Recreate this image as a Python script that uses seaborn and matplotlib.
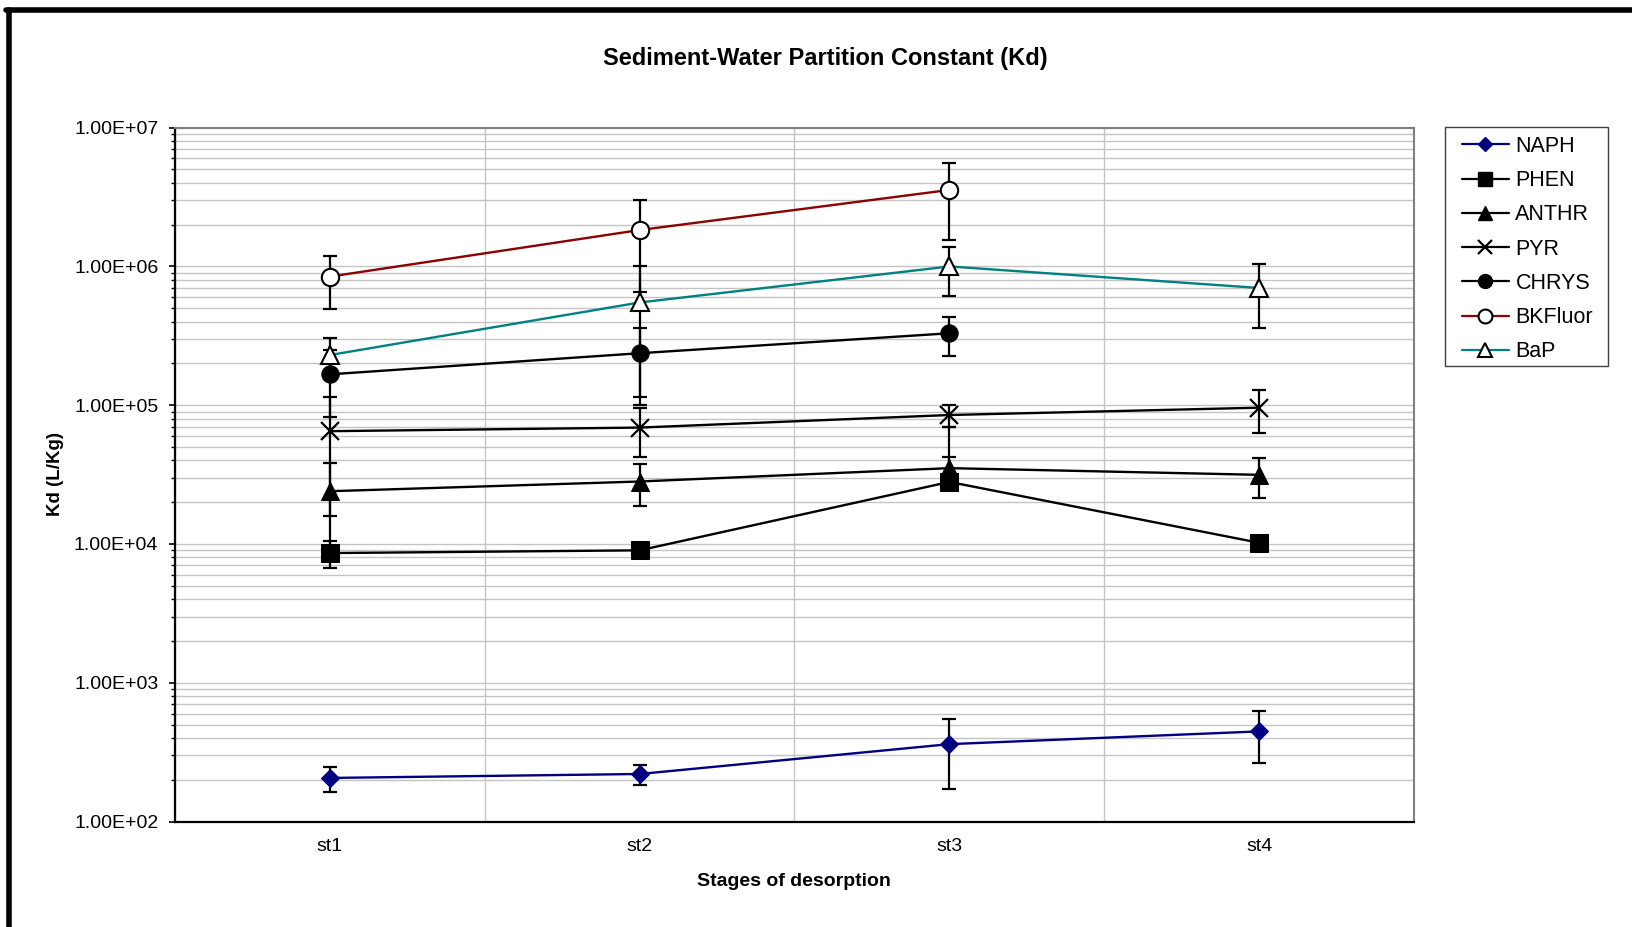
import numpy as np
import pandas as pd
import matplotlib
matplotlib.use("Agg")
import matplotlib.pyplot as plt
import seaborn as sns
from matplotlib.ticker import FuncFormatter, LogLocator, FixedLocator, NullFormatter
from matplotlib.lines import Line2D
from matplotlib.patches import Rectangle

# ---------------- data ----------------
STAGES = ["st1", "st2", "st3", "st4"]

NAPH = [206, 220, 361, 446]
NAPH_ERR_LO = [43, 36, 190, 180]
NAPH_ERR_HI = [43, 36, 190, 180]

PHEN = [8.6e3, 9.0e3, 2.8e4, 1.02e4]
PHEN_ERR_LO = [1.9e3, 0, 0, 0]
PHEN_ERR_HI = [1.9e3, 0, 1.4e4, 0]

ANTHR = [2.4e4, 2.82e4, 3.52e4, 3.15e4]
ANTHR_ERR_LO = [1.45e4, 9.5e3, 7.0e3, 1.0e4]
ANTHR_ERR_HI = [1.45e4, 9.5e3, 3.5e4, 1.0e4]

PYR = [6.5e4, 6.9e4, 8.5e4, 9.6e4]
PYR_ERR_LO = [4.9e4, 2.7e4, 1.5e4, 3.3e4]
PYR_ERR_HI = [4.9e4, 2.7e4, 1.5e4, 3.3e4]

CHRYS = [1.67e5, 2.37e5, 3.3e5, np.nan]
CHRYS_ERR_LO = [8.5e4, 1.22e5, 1.05e5, np.nan]
CHRYS_ERR_HI = [8.5e4, 1.22e5, 1.05e5, np.nan]

BKFLUOR = [8.45e5, 1.83e6, 3.56e6, np.nan]
BKFLUOR_ERR_LO = [3.5e5, 1.17e6, 2.0e6, np.nan]
BKFLUOR_ERR_HI = [3.5e5, 1.17e6, 2.0e6, np.nan]

BAP = [2.3e5, 5.5e5, 1.0e6, 7.0e5]
BAP_ERR_LO = [7.6e4, 4.5e5, 3.9e5, 3.4e5]
BAP_ERR_HI = [7.6e4, 4.5e5, 3.9e5, 3.4e5]

Y_TICKS = [1e2, 1e3, 1e4, 1e5, 1e6, 1e7]

# ---------------- style ----------------
sns.set_style("white")
plt.rcParams["font.family"] = ["Liberation Sans", "DejaVu Sans"]
plt.rcParams["text.color"] = "black"
plt.rcParams["axes.labelcolor"] = "black"
plt.rcParams["xtick.color"] = "black"
plt.rcParams["ytick.color"] = "black"

W, H = 1632, 927
fig = plt.figure(figsize=(W / 100, H / 100), dpi=100)
ax = fig.add_axes([175 / W, 1 - 821.5 / H, (1414 - 175) / W, (821.5 - 127.7) / H])

series = [
    ("NAPH", NAPH, NAPH_ERR_LO, NAPH_ERR_HI,
     dict(color="#000080", marker="D", markersize=9, markerfacecolor="#000080", markeredgecolor="#000080")),
    ("PHEN", PHEN, PHEN_ERR_LO, PHEN_ERR_HI,
     dict(color="black", marker="s", markersize=13, markerfacecolor="black", markeredgecolor="black")),
    ("ANTHR", ANTHR, ANTHR_ERR_LO, ANTHR_ERR_HI,
     dict(color="black", marker="^", markersize=13, markerfacecolor="black", markeredgecolor="black")),
    ("PYR", PYR, PYR_ERR_LO, PYR_ERR_HI,
     dict(color="black", marker="x", markersize=13, markeredgewidth=1.6, markeredgecolor="black")),
    ("CHRYS", CHRYS, CHRYS_ERR_LO, CHRYS_ERR_HI,
     dict(color="black", marker="o", markersize=12.5, markerfacecolor="black", markeredgecolor="black")),
    ("BKFluor", BKFLUOR, BKFLUOR_ERR_LO, BKFLUOR_ERR_HI,
     dict(color="#8B0000", marker="o", markersize=12.5, markerfacecolor="white", markeredgecolor="black",
          markeredgewidth=1.5)),
    ("BaP", BAP, BAP_ERR_LO, BAP_ERR_HI,
     dict(color="#008080", marker="^", markersize=13, markerfacecolor="white", markeredgecolor="black",
          markeredgewidth=1.5)),
]

xpos = np.arange(len(STAGES))
handles = []
for i, (name, vals, lo, hi, kw) in enumerate(series):
    vals = np.asarray(vals, dtype=float)
    ax.errorbar(xpos, vals, yerr=[lo, hi], fmt="none", ecolor="black",
                elinewidth=1.6, capsize=5, capthick=1.6, zorder=2 + i * 0.1,
                label="_nolegend_")
    df = pd.DataFrame({"x": xpos, "Kd": vals}).dropna()
    sns.lineplot(data=df, x="x", y="Kd", ax=ax, estimator=None, errorbar=None,
                 sort=False, linewidth=1.7, zorder=3 + i * 0.1, legend=False, **kw)
    handles.append(Line2D([0], [0], linewidth=1.6, **kw))

# ---------------- axes ----------------
ax.set_yscale("log")
ax.set_ylim(1e2, 1e7)
ax.set_xlim(-0.5, len(STAGES) - 0.5)

ax.yaxis.set_major_locator(FixedLocator(Y_TICKS))
ax.yaxis.set_minor_locator(LogLocator(base=10, subs=np.arange(2, 10)))
ax.yaxis.set_major_formatter(FuncFormatter(lambda v, p: f"{v:.2E}"))
ax.yaxis.set_minor_formatter(NullFormatter())

ax.set_xticks(xpos)
ax.set_xticklabels(STAGES)
ax.set_xticks(np.arange(-0.5, len(STAGES), 1.0), minor=True)

ax.grid(True, which="both", axis="y", color="#c4c4c4", linewidth=1.0, zorder=0)
ax.grid(True, which="minor", axis="x", color="#c4c4c4", linewidth=1.0, zorder=0)
ax.set_axisbelow(True)

ax.tick_params(axis="x", which="major", length=0, pad=12, labelsize=14, colors="black")
ax.tick_params(axis="x", which="minor", length=5, width=1.2, direction="out", color="black")
ax.tick_params(axis="y", which="major", length=4, width=1.2, direction="out", pad=8,
               labelsize=14, color="black", left=True)
ax.tick_params(axis="y", which="minor", length=3, width=1.0, direction="out", color="black", left=True)

for s in ["left", "bottom"]:
    ax.spines[s].set_color("black")
    ax.spines[s].set_linewidth(1.6)
for s in ["top", "right"]:
    ax.spines[s].set_color("#808080")
    ax.spines[s].set_linewidth(1.5)

ax.set_xlabel("")
ax.set_ylabel("")
fig.text(825 / W, 1 - 58 / H, "Sediment-Water Partition Constant (Kd)", ha="center", va="center",
         fontsize=17, fontweight="bold", color="black")
fig.text(794 / W, 1 - 881 / H, "Stages of desorption", ha="center", va="center",
         fontsize=14, fontweight="bold", color="black")
fig.text(56 / W, 1 - 474 / H, "Kd (L/Kg)", ha="center", va="center", rotation=90,
         fontsize=13.5, fontweight="bold", color="black")

# legend box drawn separately, entries placed frameless inside it
fig.add_artist(Rectangle((1444.6 / W, 1 - 366.4 / H), (1608 - 1444.6) / W, (366.4 - 127) / H,
                         transform=fig.transFigure, facecolor="white", edgecolor="#404040",
                         linewidth=1.0, zorder=5))
leg = fig.legend(handles, [s[0] for s in series], loc="upper left",
                 bbox_to_anchor=(1462 / W, 1 - 136 / H), borderaxespad=0, borderpad=0,
                 frameon=False, fontsize=15.5, handlelength=2.18,
                 handletextpad=0.3, labelspacing=0.615, markerscale=0.8)
leg.set_zorder(6)

# outer frame (left and top edges visible)
fig.add_artist(Line2D([8.5 / W, 8.5 / W], [0, 1 - 10 / H], transform=fig.transFigure,
                      color="black", linewidth=4))
fig.add_artist(Line2D([6 / W, 1], [1 - 10 / H, 1 - 10 / H], transform=fig.transFigure,
                      color="black", linewidth=4))

fig.savefig("out.png", dpi=100)
